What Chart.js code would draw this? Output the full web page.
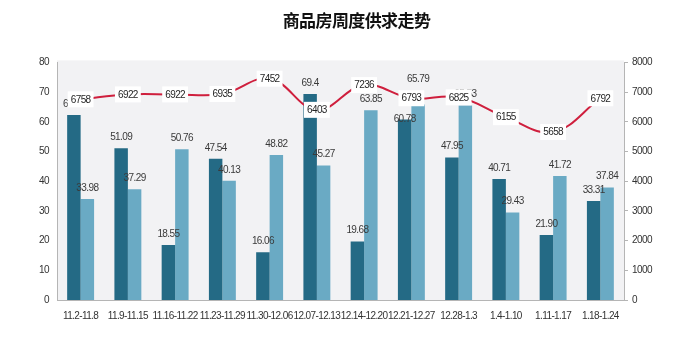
<!DOCTYPE html>
<html>
<head>
<meta charset="utf-8">
<script src="https://cdn.jsdelivr.net/npm/chart.js@4/dist/chart.umd.min.js"></script>
<style>
    html, body { margin: 0; padding: 0; background: #fff; }
    #contenedor { width: 677px; height: 337px; }
</style>
</head>
<body>
<div id="contenedor"><canvas id="chart"></canvas></div>
<script>
/* Datos de la gráfica (las barras van como texto para conservar los decimales de la tabla) */
const semanas = ['11.2-11.8', '11.9-11.15', '11.16-11.22', '11.23-11.29', '11.30-12.06', '12.07-12.13',
                 '12.14-12.20', '12.21-12.27', '12.28-1.3', '1.4-1.10', '1.11-1.17', '1.18-1.24'];
const oferta = ['62.28', '51.09', '18.55', '47.54', '16.06', '69.4', '19.68', '60.78', '47.95', '40.71', '21.90', '33.31'];
const ventas = ['33.98', '37.29', '50.76', '40.13', '48.82', '45.27', '63.85', '65.79', '65.53', '29.43', '41.72', '37.84'];
const precio = [6758, 6922, 6922, 6935, 7452, 6403, 7236, 6793, 6825, 6155, 5658, 6792];
const ticksIzq = [0, 10, 20, 30, 40, 50, 60, 70, 80];
const ticksDer = [0, 1000, 2000, 3000, 4000, 5000, 6000, 7000, 8000];

const fuente = "'Liberation Sans', Arial, sans-serif";

/* Algunas etiquetas se mueven para que no queden tapadas por las cajas de la línea */
const moverEtiqueta = { 0: { 7: 11 }, 1: { 7: -14 } };

/* Texto un poco más apretado, como en la hoja original */
const apretarTexto = {
    id: 'apretarTexto',
    beforeUpdate(chart) { chart.ctx.letterSpacing = '-0.6px'; },
    beforeLayout(chart) { chart.ctx.letterSpacing = '-0.6px'; },
    beforeDraw(chart) { chart.ctx.letterSpacing = '-0.6px'; }
};

/* Fondo gris del área de la gráfica */
const fondoArea = {
    id: 'fondoArea',
    beforeDraw(chart) {
        const { ctx, chartArea: a } = chart;
        ctx.save();
        ctx.fillStyle = '#f2f2f4';
        ctx.fillRect(a.left, a.top - 2, a.right - a.left, a.bottom - a.top + 2);
        ctx.restore();
    }
};

/* Etiquetas de valores: barras encima, y la línea con cajas blancas */
const etiquetas = {
    id: 'etiquetas',
    afterDatasetsDraw(chart) {
        const ctx = chart.ctx;
        ctx.save();
        ctx.font = '10px ' + fuente;
        ctx.textAlign = 'center';
        ctx.textBaseline = 'middle';
        ctx.fillStyle = '#3a3a3a';
        [0, 1].forEach(d => {
            const valores = chart.data.datasets[d].data;
            chart.getDatasetMeta(d).data.forEach((barra, i) => {
                const mov = (moverEtiqueta[d] && moverEtiqueta[d][i]) || 0;
                ctx.fillText(String(valores[i]), barra.x, barra.y - 11 + mov);
            });
        });

        const meta = chart.getDatasetMeta(2);
        const valores = chart.data.datasets[2].data;
        meta.data.forEach((p, i) => {
            const texto = String(valores[i]);
            const w = ctx.measureText(texto).width + 6;
            const h = 16;
            ctx.fillStyle = '#ffffff';
            ctx.fillRect(p.x - w / 2, p.y - h / 2, w, h);
            ctx.fillStyle = '#262626';
            ctx.fillText(texto, p.x, p.y + 0.5);
        });
        ctx.restore();
    }
};

new Chart(document.querySelector('#chart').getContext('2d'), {
    data: {
        labels: semanas,
        datasets: [
            {
                type: 'bar',
                label: '供应',
                data: oferta,
                yAxisID: 'y',
                backgroundColor: '#246a85',
                categoryPercentage: 0.57,
                barPercentage: 1,
                order: 1
            },
            {
                type: 'bar',
                label: '成交',
                data: ventas,
                yAxisID: 'y',
                backgroundColor: '#6aaac4',
                categoryPercentage: 0.57,
                barPercentage: 1,
                order: 1
            },
            {
                type: 'line',
                label: '价格',
                data: precio,
                yAxisID: 'y1',
                borderColor: '#cf1f3d',
                borderWidth: 2,
                tension: 0.4,
                pointRadius: 0,
                order: 0
            }
        ]
    },
    options: {
        responsive: true,
        maintainAspectRatio: false,
        animation: false,
        layout: { padding: { left: 36, right: 0, top: 0, bottom: 17 } },
        plugins: {
            legend: { display: false },
            tooltip: { enabled: false },
            title: {
                display: true,
                text: '商品房周度供求走势',
                color: '#111',
                font: { family: "'Noto Sans CJK SC', sans-serif", size: 17, weight: 'bold' },
                padding: { top: 10, bottom: 32 }
            }
        },
        scales: {
            x: {
                grid: { display: false, drawTicks: false },
                border: { color: '#b5b5b5' },
                ticks: {
                    autoSkip: false, maxRotation: 0, padding: 10,
                    color: '#333', font: { family: fuente, size: 10 }
                },
                afterFit(s) { s.height = 20; }
            },
            y: {
                position: 'left',
                min: 0, max: 80,
                afterBuildTicks(s) { s.ticks = ticksIzq.map(v => ({ value: v })); },
                grid: { display: false, drawTicks: false },
                border: { color: '#b5b5b5' },
                ticks: { padding: 8, color: '#333', font: { family: fuente, size: 10 } },
                afterFit(s) { s.width = 21; }
            },
            y1: {
                position: 'right',
                min: 0, max: 8000,
                afterBuildTicks(s) { s.ticks = ticksDer.map(v => ({ value: v })); },
                grid: { drawOnChartArea: false, tickLength: 4, color: '#b5b5b5' },
                border: { color: '#b5b5b5' },
                ticks: {
                    padding: 4, color: '#333', font: { family: fuente, size: 10 },
                    callback: v => String(v)
                },
                afterFit(s) { s.width = 53; }
            }
        }
    },
    plugins: [apretarTexto, fondoArea, etiquetas]
});
</script>
</body>
</html>
